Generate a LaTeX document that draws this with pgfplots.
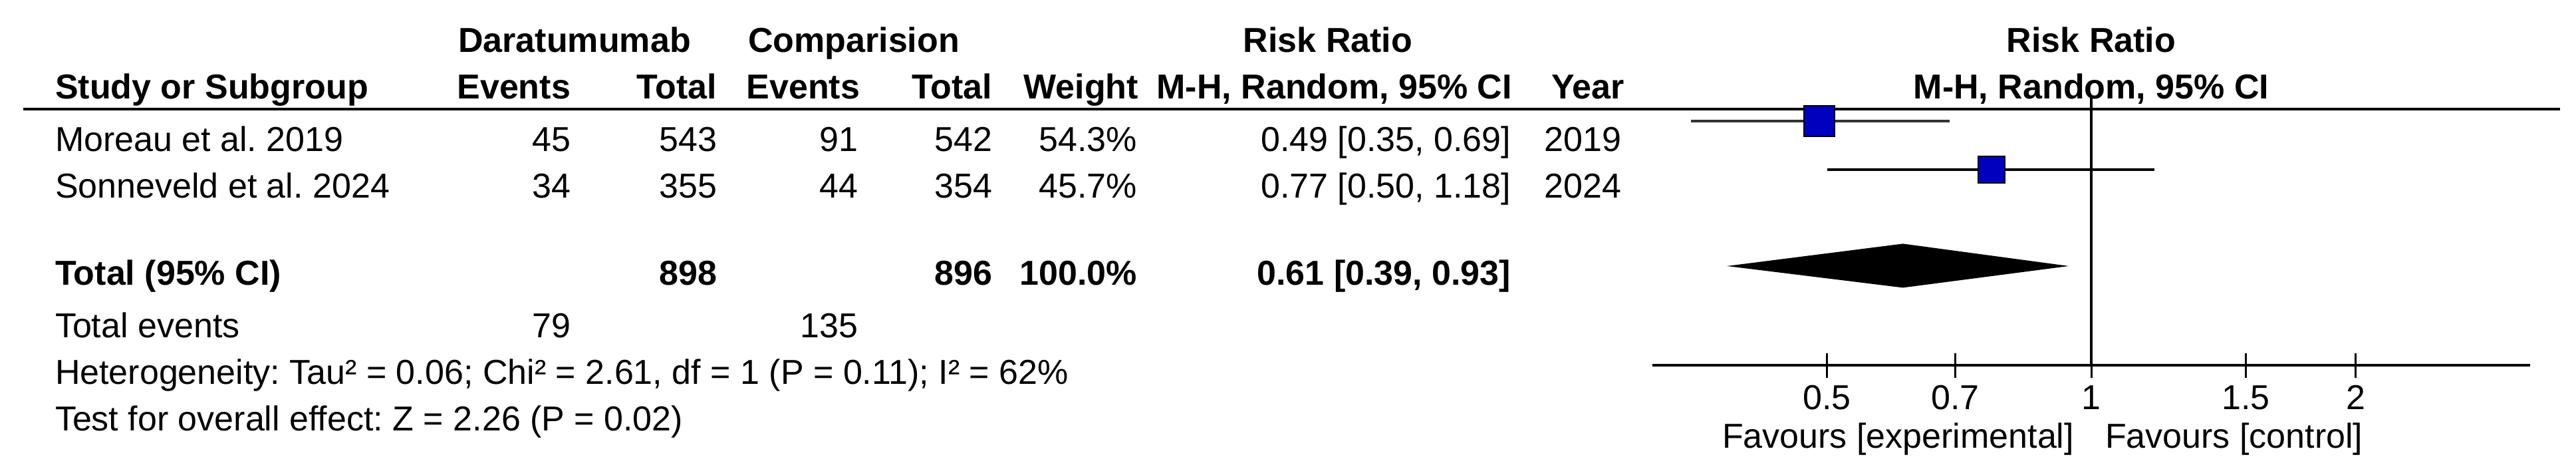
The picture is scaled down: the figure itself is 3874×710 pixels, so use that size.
\documentclass[border=0pt]{standalone}
\usepackage{pgfplots}
\pgfplotsset{compat=1.18}
\usepackage{fontspec}
\setmainfont{Liberation Sans}
\frenchspacing
\definecolor{sqblue}{RGB}{0,0,190}
\definecolor{cigray}{RGB}{51,51,51}

\begin{document}
\begin{tikzpicture}[font=\fontsize{10.4}{12}\selectfont]
  % table part, in pixel units of the reference (y down)
  \begin{scope}[x=0.2pt,y=-0.2pt,every node/.style={inner sep=0pt,outer sep=0pt}]
    \path (0,0) rectangle (3874,710);
    % header, line 1
    \node[anchor=base] at (864,78) {\bfseries Daratumumab};
    \node[anchor=base] at (1284,78) {\bfseries Comparision};
    \node[anchor=base] at (1997,78) {\bfseries Risk Ratio};
    \node[anchor=base] at (3145,78) {\bfseries Risk Ratio};
    % header, line 2
    \node[anchor=base west] at (83,148) {\bfseries Study or Subgroup};
    \node[anchor=base east] at (858,148) {\bfseries Events};
    \node[anchor=base east] at (1078,148) {\bfseries Total};
    \node[anchor=base east] at (1293,148) {\bfseries Events};
    \node[anchor=base east] at (1492,148) {\bfseries Total};
    \node[anchor=base east] at (1712,148) {\bfseries Weight};
    \node[anchor=base east] at (2274,148) {\bfseries M-H, Random, 95\% CI};
    \node[anchor=base east] at (2443,148) {\bfseries Year};
    \node[anchor=base] at (3145,148) {\bfseries M-H, Random, 95\% CI};
    \draw[line width=0.8pt] (35,164) -- (3850,164);
    % studies
    \node[anchor=base west] at (83,227) {Moreau et al. 2019};
    \node[anchor=base east] at (858,227) {45};
    \node[anchor=base east] at (1078,227) {543};
    \node[anchor=base east] at (1290,227) {91};
    \node[anchor=base east] at (1492,227) {542};
    \node[anchor=base east] at (1710,227) {54.3\%};
    \node[anchor=base east] at (2272,227) {0.49 [0.35, 0.69]};
    \node[anchor=base east] at (2438,227) {2019};
    \node[anchor=base west] at (83,297) {Sonneveld et al. 2024};
    \node[anchor=base east] at (858,297) {34};
    \node[anchor=base east] at (1078,297) {355};
    \node[anchor=base east] at (1290,297) {44};
    \node[anchor=base east] at (1492,297) {354};
    \node[anchor=base east] at (1710,297) {45.7\%};
    \node[anchor=base east] at (2272,297) {0.77 [0.50, 1.18]};
    \node[anchor=base east] at (2438,297) {2024};
    % total
    \node[anchor=base west] at (83,428) {\bfseries Total (95\% CI)};
    \node[anchor=base east] at (1078,428) {\bfseries 898};
    \node[anchor=base east] at (1492,428) {\bfseries 896};
    \node[anchor=base east] at (1710,428) {\bfseries 100.0\%};
    \node[anchor=base east] at (2272,428) {\bfseries 0.61 [0.39, 0.93]};
    \node[anchor=base west] at (83,507) {Total events};
    \node[anchor=base east] at (858,507) {79};
    \node[anchor=base east] at (1290,507) {135};
    \node[anchor=base west] at (83,577) {Heterogeneity: Tau² = 0.06; Chi² = 2.61, df = 1 (P = 0.11); I² = 62\%};
    \node[anchor=base west] at (83,647) {Test for overall effect: Z = 2.26 (P = 0.02)};
    \node[anchor=base east] at (3119,673) {Favours [experimental]};
    \node[anchor=base west] at (3166,673) {Favours [control]};
  \end{scope}

  \begin{axis}[
      at={(497pt,-109.8pt)}, anchor=south west,
      scale only axis, width=264pt, height=77.2pt,
      xmode=log, xmin=0.31623, xmax=3.16228,
      ymin=-549, ymax=-163,
      axis x line=bottom, axis y line=none,
      axis line style={-, line width=0.75pt},
      xtick={0.5,0.7,1,1.5,2}, xticklabels={},
      minor xtick={}, xminorticks=false,
      tick align=center, major tick length=7.4pt,
      every tick/.style={black, line width=0.6pt},
      clip=false,
    ]
    \addplot[black, line width=0.7pt] coordinates {(1,-163) (1,-549)};
    % Moreau et al. 2019
    \addplot[cigray, line width=0.8pt] coordinates {(0.35,-199) (0.69,-199)};
    \addplot[only marks, mark=square*, mark size=4.6pt,
      mark options={fill=sqblue, draw=none}] coordinates {(0.49,-199)};
    % Sonneveld et al. 2024
    \addplot[black, line width=0.8pt] coordinates {(0.50,-269) (1.18,-269)};
    \addplot[only marks, mark=square*, mark size=4pt,
      mark options={fill=sqblue, draw=none}] coordinates {(0.77,-269)};
    % pooled estimate
    \addplot[fill=black, draw=black] coordinates {(0.39,-407) (0.61,-376) (0.93,-407) (0.61,-437)} -- cycle;
    % tick labels
    \foreach \t in {0.5,0.7,1,1.5,2}
      {\edef\temp{\noexpand\node[anchor=base, inner sep=0pt] at (axis cs:\t,-612) {\t};}\temp}
  \end{axis}
\end{tikzpicture}
\end{document}
